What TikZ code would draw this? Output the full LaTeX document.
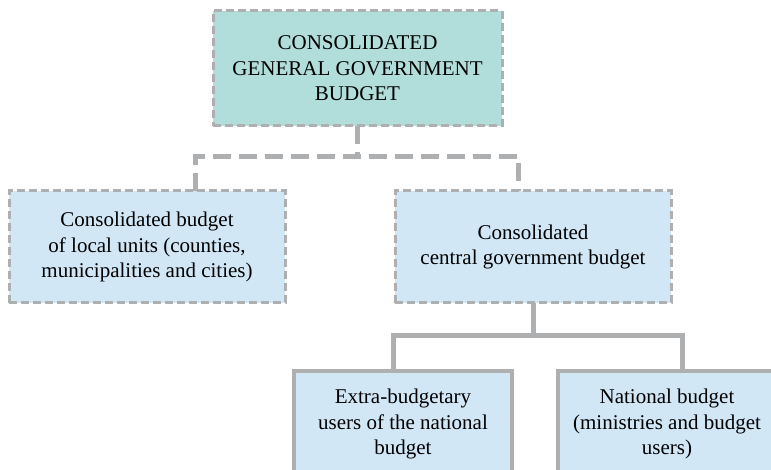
\documentclass[tikz,border=0pt]{standalone}
\usepackage{fontspec}
\setmainfont{Liberation Serif}
\usetikzlibrary{positioning}
\definecolor{linegray}{HTML}{ADAFB1}
\definecolor{tealfill}{HTML}{B1DEDB}
\definecolor{bluefill}{HTML}{D1E7F6}
\begin{document}
\begin{tikzpicture}[x=1pt,y=-1pt,every node/.style={outer sep=0pt},
		budget/.style={draw=linegray,align=center,inner sep=0pt,
			font=\fontsize{21}{25.5}\selectfont},
		topbox/.style={budget,fill=tealfill,line width=3pt,
			dash pattern=on 8pt off 4pt,minimum width=289pt,minimum height=115pt},
		midbox/.style={budget,fill=bluefill,line width=3pt,
			dash pattern=on 8pt off 4pt,minimum width=276pt,minimum height=112pt},
		lowbox/.style={budget,fill=bluefill,line width=3.5pt,
			minimum width=218pt,minimum height=106pt},
		dlink/.style={draw=linegray,line width=5pt,dash pattern=on 18pt off 8pt},
		slink/.style={draw=linegray,line width=5pt}]
		
		\useasboundingbox (0,0) rectangle (771,470);
		\clip (0,0) rectangle (771,470);
		
		\node[topbox] (cg) at (357.5,68.5) {CONSOLIDATED\\GENERAL GOVERNMENT\\BUDGET};
		
		\node[midbox] (lu) at (147,247) {Consolidated budget\\of local units (counties,\\municipalities and cities)};
		\node[midbox,right=110pt of lu] (cc) {Consolidated\\central government budget};
		
		\node[lowbox] (eb) at (403,424) {Extra-budgetary\\users of the national\\budget};
		\node[lowbox,right=46pt of eb] (nb) {National budget\\(ministries and budget\\users)};
		
		% dashed links
		\draw[dlink] (cg.south) -- ++(0,31) coordinate (j1);
		\draw[dlink] ([xshift=48pt]lu.north) |- (j1) -| ([xshift=-14.5pt]cc.north);
		
		% solid links
		\draw[slink] (cc.south) -- ++(0,32) coordinate (j2);
		\draw[slink] ([xshift=-10pt]eb.north) |- (j2) -| ([xshift=15pt]nb.north);
		
	\end{tikzpicture}
\end{document}
